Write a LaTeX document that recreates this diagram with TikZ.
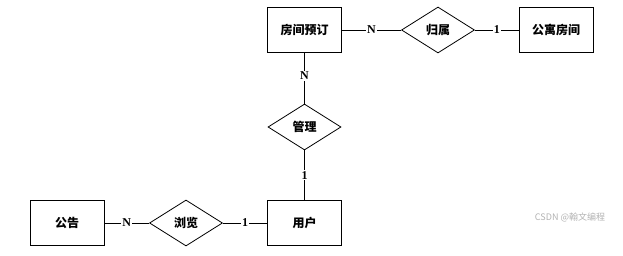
\documentclass[tikz,border=0pt]{standalone}
\usepackage{fontspec}
\usepackage{xcolor}
\usepackage{tikz}
\usetikzlibrary{shapes.geometric}
\newfontfamily\cjkfont{Noto Sans CJK SC}
\setmainfont{Liberation Serif}

\tikzset{
  entity/.style={draw,line width=0.8pt,minimum width=74pt,minimum height=45pt,font=\cjkfont\bfseries\fontsize{12}{14}\selectfont},
  relation/.style={draw,diamond,line width=0.8pt,inner sep=0pt,minimum width=73pt,minimum height=46pt,font=\cjkfont\bfseries\fontsize{12}{14}\selectfont},
  card/.style={fill=white,inner sep=1pt,font=\bfseries\fontsize{12}{13}\selectfont}
}

\begin{document}
\begin{tikzpicture}[x=1pt,y=-1pt]
  \useasboundingbox (0,0) rectangle (623,256);
  % entities
  \node[entity] (fjyd) at (304.5,30) {房间预订};
  \node[entity] (gyfj) at (556,30) {公寓房间};
  \node[entity] (yh) at (304.5,223) {用户};
  \node[entity] (gg) at (67,223) {公告};
  % relations
  \node[relation] (gs) at (438,30) {归属};
  \node[relation] (gl) at (304.5,127) {管理};
  \node[relation] (ll) at (186,223) {浏览};
  % connectors
  \foreach \a/\b/\l in {fjyd/gs/N,gs/gyfj/1,gg/ll/N,ll/yh/1}
    \draw[line width=0.8pt] (\a) -- node[card] {\l} (\b);
  \draw[line width=0.8pt] (fjyd.south) -- node[card,pos=0.45] {N} (gl.north);
  \draw[line width=0.8pt] (gl.south) -- node[card] {1} (yh.north);
  \node[text=gray!60,font=\cjkfont\fontsize{9}{10}\selectfont] (wm) at (570,217) {CSDN @翰文编程};
\end{tikzpicture}
\end{document}
